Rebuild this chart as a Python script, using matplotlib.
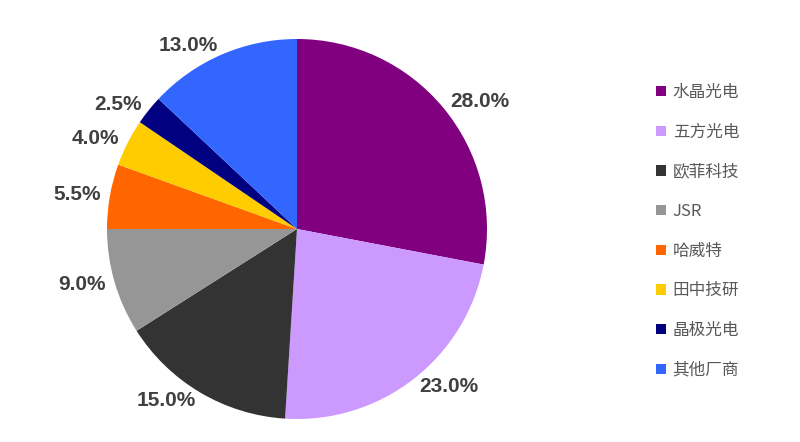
import numpy as np
import matplotlib
matplotlib.use('Agg')
import matplotlib.pyplot as plt
from matplotlib.patches import Patch

# market share data
companies = ['水晶光电', '五方光电', '欧菲科技', 'JSR', '哈威特', '田中技研', '晶极光电', '其他厂商']
shares = [28.0, 23.0, 15.0, 9.0, 5.5, 4.0, 2.5, 13.0]
colors = ['#800080', '#CC99FF', '#333333', '#969696', '#FF6600', '#FFCC00', '#000080', '#3366FF']

plt.rcParams['font.family'] = ['Liberation Sans', 'Noto Sans CJK SC', 'DejaVu Sans']

fig = plt.figure(figsize=(8, 4.42), dpi=100)
# pie centre approx (297, 229) px, radius 190 px
r_w, r_h = 190 / 800, 190 / 442
cx, cy = 297 / 800, 1 - 229 / 442
ax = fig.add_axes([cx - r_w, cy - r_h, 2 * r_w, 2 * r_h])

pct_labels = ['{:.1f}%'.format(v) for v in shares]
wedges, texts = ax.pie(shares, colors=colors, startangle=90, counterclock=False,
                       radius=1.0, labels=pct_labels, labeldistance=1.05,
                       wedgeprops=dict(linewidth=0),
                       textprops=dict(fontsize=15, fontweight='bold', color='#404040'))
ax.set_xlim(-1, 1)
ax.set_ylim(-1, 1)
ax.set_aspect('equal')
for t in texts:
    t.set_clip_on(False)

handles = [Patch(facecolor=c, edgecolor='none') for c in colors]
leg = fig.legend(handles, companies, loc='upper left', bbox_to_anchor=(641 / 800, 1 - 69 / 442),
                 frameon=False, handlelength=0.6, handleheight=0.6, handletextpad=0.4,
                 labelspacing=1.36,
                 prop={'family': ['Noto Sans CJK SC', 'DejaVu Sans'], 'size': 12})
for t in leg.get_texts():
    t.set_color('#595959')

fig.savefig('out.png', dpi=100)
